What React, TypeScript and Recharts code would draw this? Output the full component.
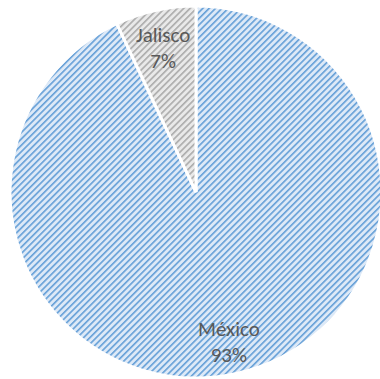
import { PieChart, Pie, Cell } from 'recharts';

const states = ['México', 'Jalisco'];
const shares = [93, 7];
const fills = ['url(#hatchBlue)', 'url(#hatchGrey)'];

const data = states.map((name, i) => ({ name, value: shares[i] }));

const RAD = Math.PI / 180;

function renderLabel({ cx, cy, midAngle, outerRadius, name, value }: any) {
  const r = outerRadius * 0.81;
  const x = cx + r * Math.cos(-midAngle * RAD);
  const y = cy + r * Math.sin(-midAngle * RAD);
  return (
    <text
      x={x}
      y={y}
      fill="#595959"
      fontSize={21}
      fontFamily="Carlito, Lato, 'Liberation Sans', sans-serif"
      textAnchor="middle"
    >
      <tspan x={x} dy={-3}>{name}</tspan>
      <tspan x={x} dy={26}>{value}%</tspan>
    </text>
  );
}

export default function App() {
  return (
    <div style={{ position: 'absolute', left: 0, top: 0, width: 380, height: 379, background: '#fff' }}>
      <svg width={0} height={0} style={{ position: 'absolute' }}>
        <defs>
          <pattern id="hatchBlue" patternUnits="userSpaceOnUse" width={4.5} height={4.5} patternTransform="rotate(45)">
            <rect width={4.5} height={4.5} fill="#dde9f7" />
            <rect width={1.6} height={4.5} fill="#649fd7" />
          </pattern>
          <pattern id="hatchGrey" patternUnits="userSpaceOnUse" width={4.5} height={4.5} patternTransform="rotate(45)">
            <rect width={4.5} height={4.5} fill="#e9e9e9" />
            <rect width={1.6} height={4.5} fill="#ababab" />
          </pattern>
        </defs>
      </svg>
      <PieChart width={380} height={379}>
        <Pie
          data={data}
          dataKey="value"
          nameKey="name"
          cx={191}
          cy={187}
          outerRadius={186}
          startAngle={90}
          endAngle={-270}
          stroke="#ffffff"
          strokeWidth={3}
          label={renderLabel}
          labelLine={false}
          isAnimationActive={false}
        >
          {data.map((d, i) => (
            <Cell key={d.name} fill={fills[i]} />
          ))}
        </Pie>
      </PieChart>
    </div>
  );
}
